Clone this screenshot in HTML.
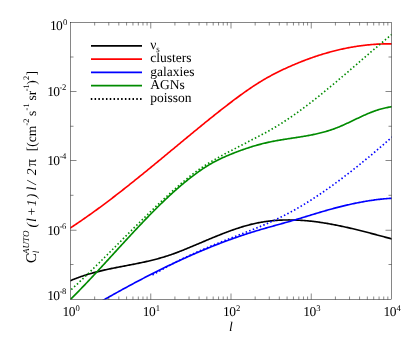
<!DOCTYPE html><html><head><meta charset="utf-8"><style>html,body{margin:0;padding:0;background:#fff;overflow:hidden}body{width:413px;height:344px;position:relative;font-family:"Liberation Serif",serif}</style></head><body><svg width="413" height="344" viewBox="0 0 413 344" style="position:absolute;left:0;top:0;will-change:transform">
<rect width="413" height="344" fill="#fff"/>
<clipPath id="c"><rect x="70.5" y="22.5" width="321.0" height="277.0"/></clipPath>
<g clip-path="url(#c)" fill="none" stroke-width="1.65" stroke-linejoin="round"><g>
<path d="M63.00,283.68 L64.00,283.27 L65.00,282.86 L66.00,282.46 L67.00,282.05 L68.00,281.64 L69.00,281.23 L70.00,280.83 L71.00,280.42 L72.00,280.00 L73.00,279.59 L74.00,279.19 L75.00,278.79 L76.00,278.41 L77.00,278.03 L78.00,277.66 L79.00,277.29 L80.00,276.94 L81.00,276.59 L82.00,276.24 L83.00,275.91 L84.00,275.58 L85.00,275.26 L86.00,274.94 L87.00,274.63 L88.00,274.32 L89.00,274.03 L90.00,273.73 L91.00,273.45 L92.00,273.17 L93.00,272.89 L94.00,272.62 L95.00,272.35 L96.00,272.09 L97.00,271.83 L98.00,271.58 L99.00,271.33 L100.00,271.09 L101.00,270.85 L102.00,270.61 L103.00,270.38 L104.00,270.15 L105.00,269.93 L106.00,269.70 L107.00,269.48 L108.00,269.27 L109.00,269.05 L110.00,268.84 L111.00,268.63 L112.00,268.43 L113.00,268.22 L114.00,268.02 L115.00,267.82 L116.00,267.62 L117.00,267.42 L118.00,267.23 L119.00,267.03 L120.00,266.84 L121.00,266.65 L122.00,266.45 L123.00,266.26 L124.00,266.07 L125.00,265.88 L126.00,265.69 L127.00,265.50 L128.00,265.31 L129.00,265.11 L130.00,264.92 L131.00,264.73 L132.00,264.53 L133.00,264.34 L134.00,264.14 L135.00,263.95 L136.00,263.75 L137.00,263.55 L138.00,263.34 L139.00,263.14 L140.00,262.93 L141.00,262.72 L142.00,262.51 L143.00,262.30 L144.00,262.08 L145.00,261.86 L146.00,261.64 L147.00,261.41 L148.00,261.19 L149.00,260.95 L150.00,260.72 L151.00,260.48 L152.00,260.23 L153.00,259.98 L154.00,259.73 L155.00,259.47 L156.00,259.21 L157.00,258.95 L158.00,258.67 L159.00,258.40 L160.00,258.12 L161.00,257.83 L162.00,257.54 L163.00,257.24 L164.00,256.93 L165.00,256.63 L166.00,256.31 L167.00,255.99 L168.00,255.66 L169.00,255.33 L170.00,255.00 L171.00,254.66 L172.00,254.31 L173.00,253.96 L174.00,253.60 L175.00,253.23 L176.00,252.86 L177.00,252.49 L178.00,252.11 L179.00,251.73 L180.00,251.34 L181.00,250.95 L182.00,250.55 L183.00,250.15 L184.00,249.75 L185.00,249.34 L186.00,248.93 L187.00,248.52 L188.00,248.11 L189.00,247.69 L190.00,247.28 L191.00,246.86 L192.00,246.44 L193.00,246.02 L194.00,245.60 L195.00,245.18 L196.00,244.76 L197.00,244.33 L198.00,243.91 L199.00,243.48 L200.00,243.06 L201.00,242.64 L202.00,242.21 L203.00,241.79 L204.00,241.37 L205.00,240.94 L206.00,240.52 L207.00,240.10 L208.00,239.68 L209.00,239.26 L210.00,238.84 L211.00,238.43 L212.00,238.01 L213.00,237.60 L214.00,237.18 L215.00,236.77 L216.00,236.37 L217.00,235.96 L218.00,235.56 L219.00,235.16 L220.00,234.76 L221.00,234.36 L222.00,233.97 L223.00,233.58 L224.00,233.19 L225.00,232.81 L226.00,232.43 L227.00,232.05 L228.00,231.68 L229.00,231.31 L230.00,230.94 L231.00,230.58 L232.00,230.23 L233.00,229.87 L234.00,229.52 L235.00,229.18 L236.00,228.84 L237.00,228.51 L238.00,228.18 L239.00,227.85 L240.00,227.54 L241.00,227.22 L242.00,226.91 L243.00,226.61 L244.00,226.32 L245.00,226.03 L246.00,225.74 L247.00,225.46 L248.00,225.19 L249.00,224.93 L250.00,224.67 L251.00,224.42 L252.00,224.17 L253.00,223.93 L254.00,223.70 L255.00,223.48 L256.00,223.27 L257.00,223.06 L258.00,222.86 L259.00,222.66 L260.00,222.48 L261.00,222.30 L262.00,222.12 L263.00,221.96 L264.00,221.80 L265.00,221.65 L266.00,221.50 L267.00,221.37 L268.00,221.23 L269.00,221.11 L270.00,220.99 L271.00,220.88 L272.00,220.78 L273.00,220.68 L274.00,220.59 L275.00,220.50 L276.00,220.42 L277.00,220.35 L278.00,220.28 L279.00,220.22 L280.00,220.17 L281.00,220.12 L282.00,220.08 L283.00,220.04 L284.00,220.01 L285.00,219.99 L286.00,219.97 L287.00,219.95 L288.00,219.95 L289.00,219.94 L290.00,219.95 L291.00,219.96 L292.00,219.97 L293.00,219.99 L294.00,220.02 L295.00,220.05 L296.00,220.08 L297.00,220.12 L298.00,220.17 L299.00,220.22 L300.00,220.27 L301.00,220.33 L302.00,220.40 L303.00,220.47 L304.00,220.54 L305.00,220.62 L306.00,220.70 L307.00,220.79 L308.00,220.89 L309.00,220.98 L310.00,221.08 L311.00,221.19 L312.00,221.30 L313.00,221.42 L314.00,221.53 L315.00,221.66 L316.00,221.78 L317.00,221.91 L318.00,222.05 L319.00,222.19 L320.00,222.33 L321.00,222.48 L322.00,222.63 L323.00,222.78 L324.00,222.94 L325.00,223.10 L326.00,223.26 L327.00,223.43 L328.00,223.60 L329.00,223.78 L330.00,223.95 L331.00,224.13 L332.00,224.32 L333.00,224.50 L334.00,224.69 L335.00,224.89 L336.00,225.08 L337.00,225.28 L338.00,225.48 L339.00,225.69 L340.00,225.89 L341.00,226.10 L342.00,226.32 L343.00,226.53 L344.00,226.75 L345.00,226.97 L346.00,227.19 L347.00,227.41 L348.00,227.64 L349.00,227.87 L350.00,228.10 L351.00,228.33 L352.00,228.57 L353.00,228.80 L354.00,229.04 L355.00,229.28 L356.00,229.53 L357.00,229.77 L358.00,230.02 L359.00,230.26 L360.00,230.51 L361.00,230.76 L362.00,231.01 L363.00,231.27 L364.00,231.52 L365.00,231.78 L366.00,232.03 L367.00,232.29 L368.00,232.55 L369.00,232.81 L370.00,233.07 L371.00,233.34 L372.00,233.60 L373.00,233.86 L374.00,234.13 L375.00,234.39 L376.00,234.66 L377.00,234.93 L378.00,235.19 L379.00,235.46 L380.00,235.73 L381.00,236.00 L382.00,236.27 L383.00,236.54 L384.00,236.81 L385.00,237.08 L386.00,237.34 L387.00,237.61 L388.00,237.88 L389.00,238.15 L390.00,238.42 L391.00,238.69 L392.00,238.96 L393.00,239.23 L394.00,239.50 L395.00,239.77 L396.00,240.04 L397.00,240.31 L398.00,240.58 L399.00,240.85 L400.00,241.12" stroke="#000"/>
<path d="M63.00,232.77 L64.00,232.11 L65.00,231.45 L66.00,230.79 L67.00,230.13 L68.00,229.47 L69.00,228.82 L70.00,228.16 L71.00,227.50 L72.00,226.85 L73.00,226.19 L74.00,225.53 L75.00,224.86 L76.00,224.20 L77.00,223.53 L78.00,222.85 L79.00,222.18 L80.00,221.50 L81.00,220.82 L82.00,220.13 L83.00,219.44 L84.00,218.75 L85.00,218.05 L86.00,217.36 L87.00,216.66 L88.00,215.95 L89.00,215.25 L90.00,214.54 L91.00,213.83 L92.00,213.11 L93.00,212.39 L94.00,211.67 L95.00,210.95 L96.00,210.22 L97.00,209.50 L98.00,208.77 L99.00,208.03 L100.00,207.30 L101.00,206.56 L102.00,205.82 L103.00,205.07 L104.00,204.33 L105.00,203.58 L106.00,202.83 L107.00,202.08 L108.00,201.32 L109.00,200.57 L110.00,199.81 L111.00,199.05 L112.00,198.29 L113.00,197.52 L114.00,196.75 L115.00,195.98 L116.00,195.21 L117.00,194.44 L118.00,193.67 L119.00,192.89 L120.00,192.11 L121.00,191.33 L122.00,190.55 L123.00,189.76 L124.00,188.98 L125.00,188.19 L126.00,187.40 L127.00,186.61 L128.00,185.82 L129.00,185.03 L130.00,184.23 L131.00,183.43 L132.00,182.64 L133.00,181.84 L134.00,181.04 L135.00,180.23 L136.00,179.43 L137.00,178.62 L138.00,177.82 L139.00,177.01 L140.00,176.20 L141.00,175.39 L142.00,174.58 L143.00,173.77 L144.00,172.96 L145.00,172.15 L146.00,171.33 L147.00,170.52 L148.00,169.70 L149.00,168.88 L150.00,168.06 L151.00,167.24 L152.00,166.42 L153.00,165.60 L154.00,164.78 L155.00,163.96 L156.00,163.14 L157.00,162.31 L158.00,161.49 L159.00,160.67 L160.00,159.84 L161.00,159.02 L162.00,158.19 L163.00,157.36 L164.00,156.54 L165.00,155.71 L166.00,154.88 L167.00,154.06 L168.00,153.23 L169.00,152.40 L170.00,151.57 L171.00,150.74 L172.00,149.92 L173.00,149.09 L174.00,148.26 L175.00,147.43 L176.00,146.60 L177.00,145.77 L178.00,144.95 L179.00,144.12 L180.00,143.29 L181.00,142.46 L182.00,141.63 L183.00,140.81 L184.00,139.98 L185.00,139.15 L186.00,138.33 L187.00,137.50 L188.00,136.67 L189.00,135.85 L190.00,135.02 L191.00,134.20 L192.00,133.38 L193.00,132.55 L194.00,131.73 L195.00,130.91 L196.00,130.09 L197.00,129.27 L198.00,128.45 L199.00,127.63 L200.00,126.81 L201.00,125.99 L202.00,125.18 L203.00,124.36 L204.00,123.55 L205.00,122.73 L206.00,121.92 L207.00,121.11 L208.00,120.30 L209.00,119.50 L210.00,118.69 L211.00,117.89 L212.00,117.09 L213.00,116.28 L214.00,115.49 L215.00,114.69 L216.00,113.89 L217.00,113.10 L218.00,112.31 L219.00,111.52 L220.00,110.73 L221.00,109.95 L222.00,109.16 L223.00,108.38 L224.00,107.60 L225.00,106.83 L226.00,106.05 L227.00,105.28 L228.00,104.51 L229.00,103.75 L230.00,102.98 L231.00,102.22 L232.00,101.47 L233.00,100.71 L234.00,99.96 L235.00,99.21 L236.00,98.47 L237.00,97.72 L238.00,96.98 L239.00,96.25 L240.00,95.52 L241.00,94.79 L242.00,94.06 L243.00,93.35 L244.00,92.63 L245.00,91.92 L246.00,91.21 L247.00,90.51 L248.00,89.82 L249.00,89.13 L250.00,88.45 L251.00,87.77 L252.00,87.09 L253.00,86.43 L254.00,85.77 L255.00,85.12 L256.00,84.47 L257.00,83.83 L258.00,83.20 L259.00,82.57 L260.00,81.95 L261.00,81.34 L262.00,80.74 L263.00,80.14 L264.00,79.55 L265.00,78.97 L266.00,78.40 L267.00,77.83 L268.00,77.27 L269.00,76.71 L270.00,76.17 L271.00,75.62 L272.00,75.09 L273.00,74.56 L274.00,74.04 L275.00,73.52 L276.00,73.01 L277.00,72.50 L278.00,72.00 L279.00,71.50 L280.00,71.02 L281.00,70.53 L282.00,70.05 L283.00,69.58 L284.00,69.11 L285.00,68.64 L286.00,68.18 L287.00,67.73 L288.00,67.27 L289.00,66.83 L290.00,66.38 L291.00,65.95 L292.00,65.51 L293.00,65.08 L294.00,64.65 L295.00,64.23 L296.00,63.81 L297.00,63.40 L298.00,62.99 L299.00,62.58 L300.00,62.18 L301.00,61.78 L302.00,61.39 L303.00,61.00 L304.00,60.61 L305.00,60.23 L306.00,59.85 L307.00,59.48 L308.00,59.11 L309.00,58.75 L310.00,58.38 L311.00,58.03 L312.00,57.68 L313.00,57.33 L314.00,56.98 L315.00,56.64 L316.00,56.31 L317.00,55.98 L318.00,55.65 L319.00,55.33 L320.00,55.01 L321.00,54.69 L322.00,54.38 L323.00,54.08 L324.00,53.78 L325.00,53.48 L326.00,53.19 L327.00,52.90 L328.00,52.62 L329.00,52.34 L330.00,52.06 L331.00,51.79 L332.00,51.52 L333.00,51.26 L334.00,51.00 L335.00,50.75 L336.00,50.50 L337.00,50.26 L338.00,50.02 L339.00,49.78 L340.00,49.55 L341.00,49.32 L342.00,49.10 L343.00,48.88 L344.00,48.67 L345.00,48.46 L346.00,48.25 L347.00,48.05 L348.00,47.86 L349.00,47.67 L350.00,47.48 L351.00,47.30 L352.00,47.12 L353.00,46.95 L354.00,46.78 L355.00,46.62 L356.00,46.46 L357.00,46.30 L358.00,46.15 L359.00,46.01 L360.00,45.87 L361.00,45.73 L362.00,45.60 L363.00,45.47 L364.00,45.35 L365.00,45.23 L366.00,45.12 L367.00,45.01 L368.00,44.91 L369.00,44.81 L370.00,44.71 L371.00,44.62 L372.00,44.54 L373.00,44.46 L374.00,44.38 L375.00,44.31 L376.00,44.24 L377.00,44.18 L378.00,44.13 L379.00,44.08 L380.00,44.03 L381.00,43.99 L382.00,43.95 L383.00,43.92 L384.00,43.89 L385.00,43.87 L386.00,43.85 L387.00,43.83 L388.00,43.83 L389.00,43.82 L390.00,43.82 L391.00,43.83 L392.00,43.84 L393.00,43.84 L394.00,43.84 L395.00,43.84 L396.00,43.84 L397.00,43.84 L398.00,43.84 L399.00,43.84 L400.00,43.84" stroke="#ff0000"/>
<path d="M95.70,304.53 L96.70,303.96 L97.70,303.39 L98.70,302.82 L99.70,302.26 L100.70,301.69 L101.70,301.12 L102.70,300.55 L103.70,299.98 L104.70,299.41 L105.70,298.84 L106.70,298.27 L107.70,297.70 L108.70,297.14 L109.70,296.57 L110.70,296.01 L111.70,295.45 L112.70,294.89 L113.70,294.32 L114.70,293.77 L115.70,293.21 L116.70,292.65 L117.70,292.10 L118.70,291.54 L119.70,290.99 L120.70,290.44 L121.70,289.89 L122.70,289.34 L123.70,288.79 L124.70,288.24 L125.70,287.70 L126.70,287.16 L127.70,286.61 L128.70,286.07 L129.70,285.53 L130.70,284.99 L131.70,284.46 L132.70,283.92 L133.70,283.39 L134.70,282.85 L135.70,282.32 L136.70,281.79 L137.70,281.26 L138.70,280.74 L139.70,280.21 L140.70,279.68 L141.70,279.16 L142.70,278.64 L143.70,278.12 L144.70,277.60 L145.70,277.08 L146.70,276.57 L147.70,276.05 L148.70,275.54 L149.70,275.03 L150.70,274.52 L151.70,274.01 L152.70,273.50 L153.70,273.00 L154.70,272.50 L155.70,271.99 L156.70,271.49 L157.70,270.99 L158.70,270.50 L159.70,270.00 L160.70,269.51 L161.70,269.01 L162.70,268.52 L163.70,268.03 L164.70,267.55 L165.70,267.06 L166.70,266.58 L167.70,266.09 L168.70,265.61 L169.70,265.13 L170.70,264.65 L171.70,264.18 L172.70,263.70 L173.70,263.23 L174.70,262.76 L175.70,262.29 L176.70,261.82 L177.70,261.36 L178.70,260.89 L179.70,260.43 L180.70,259.97 L181.70,259.51 L182.70,259.05 L183.70,258.60 L184.70,258.15 L185.70,257.69 L186.70,257.24 L187.70,256.80 L188.70,256.35 L189.70,255.91 L190.70,255.46 L191.70,255.02 L192.70,254.58 L193.70,254.15 L194.70,253.71 L195.70,253.28 L196.70,252.85 L197.70,252.42 L198.70,251.99 L199.70,251.57 L200.70,251.14 L201.70,250.72 L202.70,250.30 L203.70,249.88 L204.70,249.47 L205.70,249.05 L206.70,248.64 L207.70,248.23 L208.70,247.83 L209.70,247.42 L210.70,247.02 L211.70,246.61 L212.70,246.21 L213.70,245.82 L214.70,245.42 L215.70,245.03 L216.70,244.64 L217.70,244.25 L218.70,243.86 L219.70,243.47 L220.70,243.09 L221.70,242.71 L222.70,242.33 L223.70,241.96 L224.70,241.58 L225.70,241.21 L226.70,240.84 L227.70,240.47 L228.70,240.10 L229.70,239.74 L230.70,239.38 L231.70,239.02 L232.70,238.66 L233.70,238.31 L234.70,237.95 L235.70,237.60 L236.70,237.25 L237.70,236.91 L238.70,236.56 L239.70,236.22 L240.70,235.88 L241.70,235.55 L242.70,235.21 L243.70,234.88 L244.70,234.55 L245.70,234.22 L246.70,233.90 L247.70,233.57 L248.70,233.25 L249.70,232.93 L250.70,232.62 L251.70,232.30 L252.70,231.99 L253.70,231.68 L254.70,231.38 L255.70,231.07 L256.70,230.77 L257.70,230.47 L258.70,230.17 L259.70,229.88 L260.70,229.58 L261.70,229.29 L262.70,229.00 L263.70,228.71 L264.70,228.42 L265.70,228.14 L266.70,227.85 L267.70,227.57 L268.70,227.29 L269.70,227.01 L270.70,226.73 L271.70,226.45 L272.70,226.17 L273.70,225.89 L274.70,225.61 L275.70,225.33 L276.70,225.05 L277.70,224.77 L278.70,224.50 L279.70,224.22 L280.70,223.94 L281.70,223.66 L282.70,223.38 L283.70,223.10 L284.70,222.82 L285.70,222.54 L286.70,222.26 L287.70,221.98 L288.70,221.69 L289.70,221.41 L290.70,221.12 L291.70,220.83 L292.70,220.54 L293.70,220.25 L294.70,219.96 L295.70,219.67 L296.70,219.37 L297.70,219.07 L298.70,218.77 L299.70,218.47 L300.70,218.17 L301.70,217.87 L302.70,217.56 L303.70,217.26 L304.70,216.95 L305.70,216.65 L306.70,216.34 L307.70,216.04 L308.70,215.73 L309.70,215.42 L310.70,215.12 L311.70,214.81 L312.70,214.50 L313.70,214.20 L314.70,213.89 L315.70,213.59 L316.70,213.29 L317.70,212.99 L318.70,212.69 L319.70,212.39 L320.70,212.09 L321.70,211.79 L322.70,211.50 L323.70,211.21 L324.70,210.92 L325.70,210.63 L326.70,210.34 L327.70,210.06 L328.70,209.78 L329.70,209.50 L330.70,209.22 L331.70,208.95 L332.70,208.68 L333.70,208.41 L334.70,208.14 L335.70,207.88 L336.70,207.61 L337.70,207.36 L338.70,207.10 L339.70,206.84 L340.70,206.59 L341.70,206.34 L342.70,206.10 L343.70,205.86 L344.70,205.62 L345.70,205.38 L346.70,205.14 L347.70,204.91 L348.70,204.68 L349.70,204.46 L350.70,204.24 L351.70,204.02 L352.70,203.80 L353.70,203.59 L354.70,203.38 L355.70,203.17 L356.70,202.97 L357.70,202.77 L358.70,202.57 L359.70,202.38 L360.70,202.19 L361.70,202.01 L362.70,201.82 L363.70,201.65 L364.70,201.47 L365.70,201.30 L366.70,201.13 L367.70,200.97 L368.70,200.81 L369.70,200.65 L370.70,200.50 L371.70,200.35 L372.70,200.21 L373.70,200.06 L374.70,199.93 L375.70,199.80 L376.70,199.67 L377.70,199.54 L378.70,199.42 L379.70,199.31 L380.70,199.19 L381.70,199.09 L382.70,198.98 L383.70,198.88 L384.70,198.79 L385.70,198.70 L386.70,198.61 L387.70,198.53 L388.70,198.46 L389.70,198.38 L390.70,198.32 L391.70,198.25 L392.70,198.19 L393.70,198.12 L394.70,198.04 L395.70,197.97 L396.70,197.90 L397.70,197.83 L398.70,197.76 L399.70,197.68" stroke="#0000ff"/>
<path d="M63.00,306.94 L64.00,305.94 L65.00,304.93 L66.00,303.93 L67.00,302.92 L68.00,301.92 L69.00,300.91 L70.00,299.91 L71.00,298.90 L72.00,297.90 L73.00,296.90 L74.00,295.89 L75.00,294.88 L76.00,293.87 L77.00,292.85 L78.00,291.82 L79.00,290.80 L80.00,289.76 L81.00,288.73 L82.00,287.69 L83.00,286.65 L84.00,285.61 L85.00,284.56 L86.00,283.51 L87.00,282.45 L88.00,281.40 L89.00,280.34 L90.00,279.27 L91.00,278.21 L92.00,277.14 L93.00,276.07 L94.00,275.00 L95.00,273.93 L96.00,272.85 L97.00,271.77 L98.00,270.69 L99.00,269.61 L100.00,268.53 L101.00,267.45 L102.00,266.36 L103.00,265.28 L104.00,264.19 L105.00,263.10 L106.00,262.01 L107.00,260.92 L108.00,259.83 L109.00,258.74 L110.00,257.64 L111.00,256.55 L112.00,255.46 L113.00,254.36 L114.00,253.27 L115.00,252.18 L116.00,251.08 L117.00,249.99 L118.00,248.90 L119.00,247.81 L120.00,246.72 L121.00,245.62 L122.00,244.53 L123.00,243.45 L124.00,242.36 L125.00,241.27 L126.00,240.18 L127.00,239.10 L128.00,238.02 L129.00,236.94 L130.00,235.86 L131.00,234.78 L132.00,233.70 L133.00,232.63 L134.00,231.56 L135.00,230.49 L136.00,229.42 L137.00,228.35 L138.00,227.29 L139.00,226.23 L140.00,225.17 L141.00,224.12 L142.00,223.07 L143.00,222.02 L144.00,220.97 L145.00,219.93 L146.00,218.89 L147.00,217.85 L148.00,216.82 L149.00,215.79 L150.00,214.77 L151.00,213.75 L152.00,212.73 L153.00,211.72 L154.00,210.71 L155.00,209.71 L156.00,208.71 L157.00,207.71 L158.00,206.72 L159.00,205.74 L160.00,204.76 L161.00,203.78 L162.00,202.81 L163.00,201.84 L164.00,200.88 L165.00,199.93 L166.00,198.98 L167.00,198.03 L168.00,197.10 L169.00,196.16 L170.00,195.24 L171.00,194.32 L172.00,193.40 L173.00,192.49 L174.00,191.59 L175.00,190.70 L176.00,189.81 L177.00,188.93 L178.00,188.05 L179.00,187.18 L180.00,186.32 L181.00,185.47 L182.00,184.62 L183.00,183.78 L184.00,182.95 L185.00,182.12 L186.00,181.30 L187.00,180.49 L188.00,179.69 L189.00,178.90 L190.00,178.11 L191.00,177.33 L192.00,176.56 L193.00,175.80 L194.00,175.05 L195.00,174.31 L196.00,173.57 L197.00,172.85 L198.00,172.13 L199.00,171.42 L200.00,170.72 L201.00,170.03 L202.00,169.35 L203.00,168.68 L204.00,168.02 L205.00,167.37 L206.00,166.73 L207.00,166.10 L208.00,165.48 L209.00,164.87 L210.00,164.27 L211.00,163.69 L212.00,163.12 L213.00,162.56 L214.00,162.01 L215.00,161.47 L216.00,160.95 L217.00,160.44 L218.00,159.94 L219.00,159.44 L220.00,158.96 L221.00,158.49 L222.00,158.03 L223.00,157.58 L224.00,157.13 L225.00,156.69 L226.00,156.26 L227.00,155.83 L228.00,155.41 L229.00,154.99 L230.00,154.58 L231.00,154.18 L232.00,153.77 L233.00,153.37 L234.00,152.98 L235.00,152.58 L236.00,152.20 L237.00,151.81 L238.00,151.44 L239.00,151.06 L240.00,150.69 L241.00,150.33 L242.00,149.97 L243.00,149.61 L244.00,149.26 L245.00,148.92 L246.00,148.58 L247.00,148.24 L248.00,147.91 L249.00,147.59 L250.00,147.27 L251.00,146.95 L252.00,146.64 L253.00,146.33 L254.00,146.03 L255.00,145.74 L256.00,145.45 L257.00,145.16 L258.00,144.89 L259.00,144.61 L260.00,144.34 L261.00,144.08 L262.00,143.82 L263.00,143.57 L264.00,143.32 L265.00,143.08 L266.00,142.84 L267.00,142.61 L268.00,142.39 L269.00,142.17 L270.00,141.95 L271.00,141.75 L272.00,141.54 L273.00,141.34 L274.00,141.15 L275.00,140.96 L276.00,140.78 L277.00,140.59 L278.00,140.42 L279.00,140.24 L280.00,140.07 L281.00,139.90 L282.00,139.74 L283.00,139.58 L284.00,139.42 L285.00,139.26 L286.00,139.10 L287.00,138.94 L288.00,138.79 L289.00,138.64 L290.00,138.48 L291.00,138.33 L292.00,138.18 L293.00,138.03 L294.00,137.88 L295.00,137.73 L296.00,137.57 L297.00,137.42 L298.00,137.27 L299.00,137.11 L300.00,136.95 L301.00,136.79 L302.00,136.63 L303.00,136.46 L304.00,136.30 L305.00,136.13 L306.00,135.95 L307.00,135.78 L308.00,135.60 L309.00,135.41 L310.00,135.23 L311.00,135.03 L312.00,134.84 L313.00,134.63 L314.00,134.43 L315.00,134.21 L316.00,134.00 L317.00,133.77 L318.00,133.54 L319.00,133.31 L320.00,133.07 L321.00,132.82 L322.00,132.56 L323.00,132.30 L324.00,132.03 L325.00,131.75 L326.00,131.46 L327.00,131.16 L328.00,130.86 L329.00,130.55 L330.00,130.23 L331.00,129.90 L332.00,129.56 L333.00,129.21 L334.00,128.85 L335.00,128.48 L336.00,128.10 L337.00,127.71 L338.00,127.31 L339.00,126.90 L340.00,126.48 L341.00,126.05 L342.00,125.62 L343.00,125.18 L344.00,124.73 L345.00,124.28 L346.00,123.82 L347.00,123.36 L348.00,122.90 L349.00,122.43 L350.00,121.96 L351.00,121.48 L352.00,121.00 L353.00,120.53 L354.00,120.05 L355.00,119.57 L356.00,119.09 L357.00,118.62 L358.00,118.14 L359.00,117.67 L360.00,117.20 L361.00,116.73 L362.00,116.27 L363.00,115.81 L364.00,115.36 L365.00,114.91 L366.00,114.47 L367.00,114.04 L368.00,113.61 L369.00,113.19 L370.00,112.78 L371.00,112.38 L372.00,111.99 L373.00,111.61 L374.00,111.24 L375.00,110.88 L376.00,110.53 L377.00,110.20 L378.00,109.87 L379.00,109.57 L380.00,109.27 L381.00,108.99 L382.00,108.73 L383.00,108.47 L384.00,108.23 L385.00,108.00 L386.00,107.78 L387.00,107.57 L388.00,107.37 L389.00,107.18 L390.00,107.00 L391.00,106.83 L392.00,106.66 L393.00,106.50 L394.00,106.35 L395.00,106.21 L396.00,106.07 L397.00,105.94 L398.00,105.81 L399.00,105.68 L400.00,105.56 L401.00,105.43 L402.00,105.30 L403.00,105.17 L404.00,105.04 L405.00,104.91 L406.00,104.78 L407.00,104.65 L408.00,104.52" stroke="#008b00"/>
<path d="M152.50,274.95 L153.50,274.39 L154.50,273.82 L155.50,273.26 L156.50,272.69 L157.50,272.12 L158.50,271.56 L159.50,270.99 L160.50,270.43 L161.50,269.86 L162.50,269.29 L163.50,268.73 L164.50,268.17 L165.50,267.61 L166.50,267.06 L167.50,266.52 L168.50,265.98 L169.50,265.44 L170.50,264.90 L171.50,264.38 L172.50,263.85 L173.50,263.33 L174.50,262.81 L175.50,262.30 L176.50,261.79 L177.50,261.28 L178.50,260.78 L179.50,260.28 L180.50,259.78 L181.50,259.29 L182.50,258.80 L183.50,258.32 L184.50,257.84 L185.50,257.36 L186.50,256.88 L187.50,256.41 L188.50,255.94 L189.50,255.48 L190.50,255.01 L191.50,254.55 L192.50,254.09 L193.50,253.64 L194.50,253.19 L195.50,252.74 L196.50,252.29 L197.50,251.85 L198.50,251.41 L199.50,250.97 L200.50,250.53 L201.50,250.10 L202.50,249.66 L203.50,249.23 L204.50,248.81 L205.50,248.38 L206.50,247.96 L207.50,247.53 L208.50,247.11 L209.50,246.70 L210.50,246.28 L211.50,245.87 L212.50,245.45 L213.50,245.04 L214.50,244.63 L215.50,244.23 L216.50,243.82 L217.50,243.42 L218.50,243.01 L219.50,242.61 L220.50,242.21 L221.50,241.81 L222.50,241.41 L223.50,241.01 L224.50,240.62 L225.50,240.22 L226.50,239.83 L227.50,239.43 L228.50,239.04 L229.50,238.65 L230.50,238.26 L231.50,237.87 L232.50,237.48 L233.50,237.09 L234.50,236.70 L235.50,236.31 L236.50,235.92 L237.50,235.53 L238.50,235.14 L239.50,234.75 L240.50,234.37 L241.50,233.98 L242.50,233.59 L243.50,233.20 L244.50,232.81 L245.50,232.42 L246.50,232.02 L247.50,231.63 L248.50,231.24 L249.50,230.84 L250.50,230.45 L251.50,230.05 L252.50,229.65 L253.50,229.25 L254.50,228.84 L255.50,228.44 L256.50,228.03 L257.50,227.62 L258.50,227.21 L259.50,226.80 L260.50,226.38 L261.50,225.96 L262.50,225.54 L263.50,225.12 L264.50,224.69 L265.50,224.26 L266.50,223.83 L267.50,223.39 L268.50,222.95 L269.50,222.50 L270.50,222.06 L271.50,221.61 L272.50,221.15 L273.50,220.69 L274.50,220.23 L275.50,219.76 L276.50,219.29 L277.50,218.81 L278.50,218.33 L279.50,217.85 L280.50,217.35 L281.50,216.86 L282.50,216.36 L283.50,215.85 L284.50,215.34 L285.50,214.83 L286.50,214.31 L287.50,213.78 L288.50,213.25 L289.50,212.71 L290.50,212.17 L291.50,211.62 L292.50,211.07 L293.50,210.52 L294.50,209.96 L295.50,209.39 L296.50,208.82 L297.50,208.24 L298.50,207.66 L299.50,207.08 L300.50,206.49 L301.50,205.90 L302.50,205.30 L303.50,204.70 L304.50,204.09 L305.50,203.48 L306.50,202.86 L307.50,202.24 L308.50,201.61 L309.50,200.98 L310.50,200.35 L311.50,199.71 L312.50,199.07 L313.50,198.42 L314.50,197.77 L315.50,197.12 L316.50,196.46 L317.50,195.79 L318.50,195.13 L319.50,194.45 L320.50,193.78 L321.50,193.10 L322.50,192.42 L323.50,191.73 L324.50,191.04 L325.50,190.34 L326.50,189.64 L327.50,188.94 L328.50,188.23 L329.50,187.52 L330.50,186.81 L331.50,186.09 L332.50,185.37 L333.50,184.65 L334.50,183.92 L335.50,183.19 L336.50,182.45 L337.50,181.71 L338.50,180.97 L339.50,180.23 L340.50,179.48 L341.50,178.73 L342.50,177.97 L343.50,177.21 L344.50,176.45 L345.50,175.68 L346.50,174.92 L347.50,174.14 L348.50,173.37 L349.50,172.59 L350.50,171.81 L351.50,171.03 L352.50,170.24 L353.50,169.45 L354.50,168.66 L355.50,167.86 L356.50,167.07 L357.50,166.27 L358.50,165.46 L359.50,164.66 L360.50,163.85 L361.50,163.03 L362.50,162.22 L363.50,161.40 L364.50,160.58 L365.50,159.76 L366.50,158.94 L367.50,158.11 L368.50,157.28 L369.50,156.45 L370.50,155.61 L371.50,154.78 L372.50,153.94 L373.50,153.10 L374.50,152.25 L375.50,151.41 L376.50,150.56 L377.50,149.71 L378.50,148.86 L379.50,148.00 L380.50,147.15 L381.50,146.29 L382.50,145.43 L383.50,144.56 L384.50,143.70 L385.50,142.83 L386.50,141.96 L387.50,141.09 L388.50,140.22 L389.50,139.35 L390.50,138.47 L391.50,137.60 L392.50,136.73 L393.50,135.86 L394.50,134.99 L395.50,134.12 L396.50,133.25 L397.50,132.38" stroke="#0000ff" stroke-dasharray="1.5 2.3"/>
<path d="M63.00,297.29 L64.00,296.36 L65.00,295.43 L66.00,294.51 L67.00,293.58 L68.00,292.65 L69.00,291.72 L70.00,290.79 L71.00,289.87 L72.00,288.94 L73.00,288.02 L74.00,287.09 L75.00,286.15 L76.00,285.22 L77.00,284.28 L78.00,283.34 L79.00,282.39 L80.00,281.44 L81.00,280.49 L82.00,279.54 L83.00,278.58 L84.00,277.62 L85.00,276.66 L86.00,275.69 L87.00,274.73 L88.00,273.76 L89.00,272.79 L90.00,271.81 L91.00,270.84 L92.00,269.86 L93.00,268.88 L94.00,267.90 L95.00,266.92 L96.00,265.93 L97.00,264.95 L98.00,263.96 L99.00,262.97 L100.00,261.98 L101.00,260.98 L102.00,259.99 L103.00,258.99 L104.00,258.00 L105.00,257.00 L106.00,256.00 L107.00,255.00 L108.00,254.00 L109.00,253.00 L110.00,252.00 L111.00,251.00 L112.00,250.00 L113.00,248.99 L114.00,247.99 L115.00,246.98 L116.00,245.98 L117.00,244.98 L118.00,243.97 L119.00,242.97 L120.00,241.96 L121.00,240.96 L122.00,239.95 L123.00,238.95 L124.00,237.94 L125.00,236.94 L126.00,235.94 L127.00,234.94 L128.00,233.93 L129.00,232.93 L130.00,231.93 L131.00,230.93 L132.00,229.93 L133.00,228.94 L134.00,227.94 L135.00,226.94 L136.00,225.95 L137.00,224.96 L138.00,223.97 L139.00,222.97 L140.00,221.99 L141.00,221.00 L142.00,220.01 L143.00,219.03 L144.00,218.05 L145.00,217.07 L146.00,216.09 L147.00,215.11 L148.00,214.14 L149.00,213.17 L150.00,212.20 L151.00,211.23 L152.00,210.27 L153.00,209.30 L154.00,208.34 L155.00,207.39 L156.00,206.43 L157.00,205.48 L158.00,204.53 L159.00,203.58 L160.00,202.64 L161.00,201.70 L162.00,200.76 L163.00,199.83 L164.00,198.90 L165.00,197.97 L166.00,197.05 L167.00,196.13 L168.00,195.21 L169.00,194.30 L170.00,193.39 L171.00,192.48 L172.00,191.58 L173.00,190.68 L174.00,189.79 L175.00,188.90 L176.00,188.01 L177.00,187.14 L178.00,186.26 L179.00,185.39 L180.00,184.53 L181.00,183.67 L182.00,182.82 L183.00,181.98 L184.00,181.14 L185.00,180.31 L186.00,179.49 L187.00,178.67 L188.00,177.86 L189.00,177.06 L190.00,176.27 L191.00,175.48 L192.00,174.71 L193.00,173.94 L194.00,173.18 L195.00,172.43 L196.00,171.69 L197.00,170.96 L198.00,170.24 L199.00,169.52 L200.00,168.82 L201.00,168.13 L202.00,167.45 L203.00,166.78 L204.00,166.12 L205.00,165.46 L206.00,164.82 L207.00,164.18 L208.00,163.55 L209.00,162.93 L210.00,162.32 L211.00,161.71 L212.00,161.11 L213.00,160.52 L214.00,159.94 L215.00,159.36 L216.00,158.79 L217.00,158.22 L218.00,157.65 L219.00,157.10 L220.00,156.54 L221.00,156.00 L222.00,155.45 L223.00,154.91 L224.00,154.37 L225.00,153.84 L226.00,153.31 L227.00,152.78 L228.00,152.26 L229.00,151.73 L230.00,151.21 L231.00,150.69 L232.00,150.18 L233.00,149.66 L234.00,149.14 L235.00,148.62 L236.00,148.11 L237.00,147.59 L238.00,147.08 L239.00,146.56 L240.00,146.04 L241.00,145.52 L242.00,145.00 L243.00,144.48 L244.00,143.95 L245.00,143.43 L246.00,142.91 L247.00,142.38 L248.00,141.86 L249.00,141.34 L250.00,140.81 L251.00,140.29 L252.00,139.77 L253.00,139.25 L254.00,138.72 L255.00,138.21 L256.00,137.69 L257.00,137.17 L258.00,136.65 L259.00,136.13 L260.00,135.61 L261.00,135.09 L262.00,134.57 L263.00,134.04 L264.00,133.51 L265.00,132.98 L266.00,132.44 L267.00,131.89 L268.00,131.35 L269.00,130.79 L270.00,130.23 L271.00,129.66 L272.00,129.09 L273.00,128.51 L274.00,127.92 L275.00,127.32 L276.00,126.72 L277.00,126.12 L278.00,125.50 L279.00,124.89 L280.00,124.26 L281.00,123.63 L282.00,122.99 L283.00,122.35 L284.00,121.71 L285.00,121.05 L286.00,120.39 L287.00,119.73 L288.00,119.06 L289.00,118.38 L290.00,117.70 L291.00,117.02 L292.00,116.33 L293.00,115.63 L294.00,114.93 L295.00,114.23 L296.00,113.52 L297.00,112.80 L298.00,112.08 L299.00,111.36 L300.00,110.63 L301.00,109.90 L302.00,109.16 L303.00,108.42 L304.00,107.67 L305.00,106.92 L306.00,106.17 L307.00,105.41 L308.00,104.65 L309.00,103.88 L310.00,103.11 L311.00,102.34 L312.00,101.56 L313.00,100.78 L314.00,100.00 L315.00,99.21 L316.00,98.42 L317.00,97.63 L318.00,96.83 L319.00,96.03 L320.00,95.23 L321.00,94.42 L322.00,93.61 L323.00,92.80 L324.00,91.99 L325.00,91.17 L326.00,90.35 L327.00,89.53 L328.00,88.70 L329.00,87.88 L330.00,87.05 L331.00,86.22 L332.00,85.38 L333.00,84.55 L334.00,83.71 L335.00,82.87 L336.00,82.03 L337.00,81.19 L338.00,80.34 L339.00,79.49 L340.00,78.65 L341.00,77.80 L342.00,76.94 L343.00,76.09 L344.00,75.24 L345.00,74.38 L346.00,73.53 L347.00,72.67 L348.00,71.81 L349.00,70.95 L350.00,70.10 L351.00,69.23 L352.00,68.37 L353.00,67.51 L354.00,66.65 L355.00,65.79 L356.00,64.92 L357.00,64.06 L358.00,63.20 L359.00,62.33 L360.00,61.47 L361.00,60.61 L362.00,59.74 L363.00,58.88 L364.00,58.02 L365.00,57.15 L366.00,56.29 L367.00,55.43 L368.00,54.57 L369.00,53.70 L370.00,52.84 L371.00,51.98 L372.00,51.13 L373.00,50.27 L374.00,49.41 L375.00,48.55 L376.00,47.70 L377.00,46.84 L378.00,45.99 L379.00,45.14 L380.00,44.29 L381.00,43.44 L382.00,42.60 L383.00,41.75 L384.00,40.91 L385.00,40.06 L386.00,39.22 L387.00,38.39 L388.00,37.55 L389.00,36.72 L390.00,35.88 L391.00,35.05 L392.00,34.21 L393.00,33.37 L394.00,32.54 L395.00,31.70 L396.00,30.86 L397.00,30.03 L398.00,29.19" stroke="#008b00" stroke-dasharray="1.5 2.3"/>
</g></g>
<g stroke="#000" stroke-width="0.47" fill="none">
<rect x="70.5" y="22.5" width="321.0" height="277.0"/>
<path d="M94.66,299.5v-3 M94.66,22.5v3 M108.79,299.5v-3 M108.79,22.5v3 M118.82,299.5v-3 M118.82,22.5v3 M126.59,299.5v-3 M126.59,22.5v3 M132.95,299.5v-3 M132.95,22.5v3 M138.32,299.5v-3 M138.32,22.5v3 M142.97,299.5v-3 M142.97,22.5v3 M147.08,299.5v-3 M147.08,22.5v3 M150.75,299.5v-6 M150.75,22.5v6 M174.91,299.5v-3 M174.91,22.5v3 M189.04,299.5v-3 M189.04,22.5v3 M199.07,299.5v-3 M199.07,22.5v3 M206.84,299.5v-3 M206.84,22.5v3 M213.20,299.5v-3 M213.20,22.5v3 M218.57,299.5v-3 M218.57,22.5v3 M223.22,299.5v-3 M223.22,22.5v3 M227.33,299.5v-3 M227.33,22.5v3 M231.00,299.5v-6 M231.00,22.5v6 M255.16,299.5v-3 M255.16,22.5v3 M269.29,299.5v-3 M269.29,22.5v3 M279.32,299.5v-3 M279.32,22.5v3 M287.09,299.5v-3 M287.09,22.5v3 M293.45,299.5v-3 M293.45,22.5v3 M298.82,299.5v-3 M298.82,22.5v3 M303.47,299.5v-3 M303.47,22.5v3 M307.58,299.5v-3 M307.58,22.5v3 M311.25,299.5v-6 M311.25,22.5v6 M335.41,299.5v-3 M335.41,22.5v3 M349.54,299.5v-3 M349.54,22.5v3 M359.57,299.5v-3 M359.57,22.5v3 M367.34,299.5v-3 M367.34,22.5v3 M373.70,299.5v-3 M373.70,22.5v3 M379.07,299.5v-3 M379.07,22.5v3 M383.72,299.5v-3 M383.72,22.5v3 M387.83,299.5v-3 M387.83,22.5v3 M70.5,57.00h3 M391.5,57.00h-3 M70.5,91.50h6 M391.5,91.50h-6 M70.5,126.25h3 M391.5,126.25h-3 M70.5,160.50h6 M391.5,160.50h-6 M70.5,195.30h3 M391.5,195.30h-3 M70.5,230.25h6 M391.5,230.25h-6 M70.5,264.50h3 M391.5,264.50h-3"/>
</g>
<g fill="none" stroke-width="1.8">
<path d="M91,45.80H142" stroke="#000"/>
<path d="M91,59.10H142" stroke="#ff0000"/>
<path d="M91,72.40H142" stroke="#0000ff"/>
<path d="M91,85.70H142" stroke="#008b00"/>
<path d="M90.8,99.0H142" stroke="#000" stroke-dasharray="1.5 2.29"/>
</g>
<g font-family="Liberation Serif, serif" font-size="13.5px" fill="#000" text-rendering="geometricPrecision">
<text x="150.2" y="49.3">ν<tspan font-size="9px" dy="2.4">s</tspan></text>
<text x="150.2" y="62.30">clusters</text>
<text x="150.2" y="75.60">galaxies</text>
<text x="150.2" y="88.90">AGNs</text>
<text x="150.2" y="102.20">poisson</text>
<text x="62.20" y="30.0" text-anchor="end" letter-spacing="-0.6">10</text><text x="62.90" y="24.9" font-size="8.6px">0</text>
<text x="59.50" y="96.00" text-anchor="end" letter-spacing="-0.6">10</text><text x="59.60" y="89.90" font-size="8.6px" letter-spacing="-0.5">-2</text>
<text x="59.50" y="165.00" text-anchor="end" letter-spacing="-0.6">10</text><text x="59.60" y="158.90" font-size="8.6px" letter-spacing="-0.5">-4</text>
<text x="59.50" y="234.75" text-anchor="end" letter-spacing="-0.6">10</text><text x="59.60" y="228.65" font-size="8.6px" letter-spacing="-0.5">-6</text>
<text x="59.50" y="299.8" text-anchor="end" letter-spacing="-0.6">10</text><text x="59.60" y="294.0" font-size="8.6px" letter-spacing="-0.5">-8</text>
<text x="74.80" y="316.1" text-anchor="end" letter-spacing="-0.6">10</text><text x="75.50" y="311.0" font-size="8.6px">0</text>
<text x="155.05" y="316.1" text-anchor="end" letter-spacing="-0.6">10</text><text x="155.75" y="311.0" font-size="8.6px">1</text>
<text x="235.30" y="316.1" text-anchor="end" letter-spacing="-0.6">10</text><text x="236.00" y="311.0" font-size="8.6px">2</text>
<text x="315.55" y="316.1" text-anchor="end" letter-spacing="-0.6">10</text><text x="316.25" y="311.0" font-size="8.6px">3</text>
<text x="395.80" y="316.1" text-anchor="end" letter-spacing="-0.6">10</text><text x="396.50" y="311.0" font-size="8.6px">4</text>
<text x="231" y="330.6" font-style="italic" text-anchor="middle">l</text>
<g transform="translate(35.7,262.8) rotate(-90)">
<text x="-0.3" y="0" font-size="14.8px" font-style="normal">C</text>
<text x="9.6" y="3.0" font-size="9.0px" font-style="italic">l</text>
<text x="8.9" y="-6.4" font-size="9.0px" font-style="italic">AUTO</text>
<text x="35.3" y="0" font-size="13.5px" font-style="italic">(</text>
<text x="40.7" y="0" font-size="13.5px" font-style="italic">l</text>
<text x="46.6" y="0" font-size="13.5px" font-style="italic">+</text>
<text x="56.5" y="0" font-size="13.5px" font-style="italic">1</text>
<text x="64.5" y="0" font-size="13.5px" font-style="italic">)</text>
<text x="72.4" y="0" font-size="13.5px" font-style="italic">l</text>
<text x="78.4" y="0" font-size="13.5px" font-style="italic">/</text>
<text x="87.5" y="0" font-size="13.5px" font-style="italic">2</text>
<text x="96.2" y="0" font-size="15px" font-style="normal">π</text>
<text x="111.6" y="0" font-size="13.5px" font-style="normal">[(cm</text>
<text x="137.2" y="-6.6" font-size="8.4px" font-style="normal">-2</text>
<text x="146.8" y="0" font-size="13.5px" font-style="normal">s</text>
<text x="152.4" y="-6.6" font-size="8.4px" font-style="normal">-1</text>
<text x="162.2" y="0" font-size="13.5px" font-style="normal">sr</text>
<text x="171.6" y="-6.6" font-size="8.4px" font-style="normal">-1</text>
<text x="178.1" y="0" font-size="13.5px" font-style="normal">)</text>
<text x="182.8" y="-6.6" font-size="8.4px" font-style="normal">2</text>
<text x="187.2" y="0" font-size="13.5px" font-style="normal">]</text>
</g>
</g>
</svg></body></html>
